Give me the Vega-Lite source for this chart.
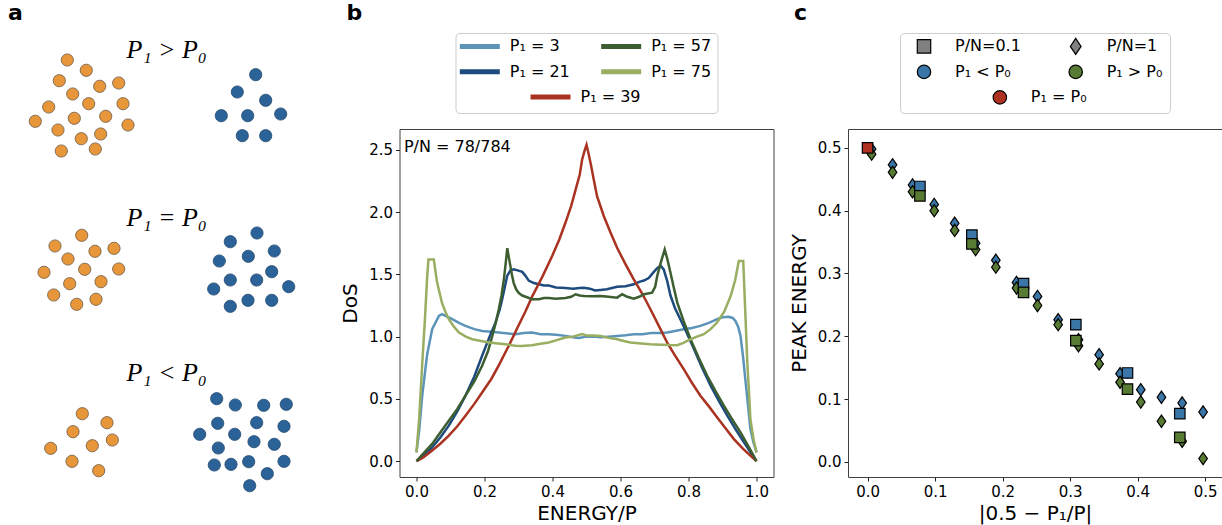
{
  "$schema": "https://vega.github.io/schema/vega-lite/v6.json",
  "padding": {"left": 0, "top": 1, "right": 0, "bottom": 0},
  "background": "white",
  "bounds": "full",
  "spacing": 13.5,
  "resolve": {"scale": {"fill": "independent", "color": "independent", "shape": "independent", "stroke": "independent"}},
  "config": {
    "font": "DejaVu Sans",
    "view": {"stroke": "#404040", "strokeWidth": 1},
    "axis": {"grid": false, "domain": false, "tickColor": "#222222", "tickSize": 4, "labelFontSize": 15, "labelColor": "#000000", "titleFontSize": 20, "titleFontWeight": "normal", "titleColor": "#000000", "labelPadding": 3, "labelFont": "DejaVu Sans", "titleFont": "DejaVu Sans"},
    "title": {"font": "DejaVu Sans", "fontSize": 22, "fontWeight": "bold", "anchor": "start", "frame": "group", "baseline": "alphabetic", "offset": 8, "color": "#000000"}
  },
  "hconcat": [
    {
      "width": 325.5, "height": 492,
      "view": {"stroke": null},
      "title": {"text": "a", "dx": 8},
      "layer": [
        {
          "data": {"values": [
            {"x":6.73,"y":6.0,"g":"P1"},{"x":8.63,"y":7.03,"g":"P1"},{"x":5.93,"y":8.07,"g":"P1"},{"x":9.97,"y":8.63,"g":"P1"},{"x":11.87,"y":8.3,"g":"P1"},{"x":7.27,"y":9.4,"g":"P1"},{"x":4.87,"y":10.7,"g":"P1"},{"x":8.87,"y":10.37,"g":"P1"},{"x":12.3,"y":10.37,"g":"P1"},{"x":3.53,"y":12.13,"g":"P1"},{"x":7.43,"y":11.83,"g":"P1"},{"x":10.57,"y":11.63,"g":"P1"},{"x":12.8,"y":12.5,"g":"P1"},{"x":5.8,"y":13.0,"g":"P1"},{"x":8.13,"y":13.87,"g":"P1"},{"x":10.07,"y":13.4,"g":"P1"},{"x":6.13,"y":15.1,"g":"P1"},{"x":9.53,"y":14.9,"g":"P1"},
            {"x":25.57,"y":7.47,"g":"P0"},{"x":23.73,"y":9.2,"g":"P0"},{"x":26.57,"y":10.03,"g":"P0"},{"x":22.13,"y":11.57,"g":"P0"},{"x":24.77,"y":11.57,"g":"P0"},{"x":28.07,"y":11.4,"g":"P0"},{"x":24.23,"y":13.57,"g":"P0"},{"x":26.57,"y":13.57,"g":"P0"},
            {"x":8.17,"y":23.53,"g":"P1"},{"x":5.5,"y":24.6,"g":"P1"},{"x":9.5,"y":25.13,"g":"P1"},{"x":11.4,"y":24.83,"g":"P1"},{"x":6.8,"y":25.9,"g":"P1"},{"x":4.4,"y":27.23,"g":"P1"},{"x":8.47,"y":26.93,"g":"P1"},{"x":11.87,"y":26.9,"g":"P1"},{"x":6.97,"y":28.37,"g":"P1"},{"x":10.1,"y":28.17,"g":"P1"},{"x":5.37,"y":29.5,"g":"P1"},{"x":7.67,"y":30.43,"g":"P1"},{"x":9.6,"y":29.93,"g":"P1"},
            {"x":25.7,"y":23.3,"g":"P0"},{"x":23.03,"y":24.17,"g":"P0"},{"x":27.43,"y":25.1,"g":"P0"},{"x":21.93,"y":26.1,"g":"P0"},{"x":24.83,"y":25.63,"g":"P0"},{"x":27.17,"y":27.17,"g":"P0"},{"x":23.03,"y":28.0,"g":"P0"},{"x":25.67,"y":28.0,"g":"P0"},{"x":21.37,"y":28.9,"g":"P0"},{"x":28.87,"y":28.67,"g":"P0"},{"x":24.8,"y":30.03,"g":"P0"},{"x":27.17,"y":30.03,"g":"P0"},{"x":23.03,"y":30.63,"g":"P0"},
            {"x":8.23,"y":41.37,"g":"P1"},{"x":10.7,"y":42.27,"g":"P1"},{"x":7.3,"y":43.17,"g":"P1"},{"x":11.23,"y":44.0,"g":"P1"},{"x":5.07,"y":44.83,"g":"P1"},{"x":9.23,"y":44.57,"g":"P1"},{"x":7.2,"y":46.13,"g":"P1"},{"x":9.87,"y":47.07,"g":"P1"},
            {"x":21.67,"y":39.87,"g":"P0"},{"x":23.53,"y":40.5,"g":"P0"},{"x":26.37,"y":40.53,"g":"P0"},{"x":28.63,"y":40.43,"g":"P0"},{"x":21.77,"y":42.33,"g":"P0"},{"x":25.67,"y":42.27,"g":"P0"},{"x":28.4,"y":42.63,"g":"P0"},{"x":19.97,"y":43.43,"g":"P0"},{"x":23.47,"y":43.43,"g":"P0"},{"x":25.4,"y":44.17,"g":"P0"},{"x":27.43,"y":44.43,"g":"P0"},{"x":21.83,"y":44.8,"g":"P0"},{"x":21.43,"y":46.5,"g":"P0"},{"x":23.1,"y":46.43,"g":"P0"},{"x":24.87,"y":46.17,"g":"P0"},{"x":28.4,"y":46.13,"g":"P0"},{"x":26.73,"y":47.37,"g":"P0"},{"x":24.97,"y":48.57,"g":"P0"}
          ]},
          "mark": {"type": "circle", "size": 150, "opacity": 1, "strokeWidth": 0.8},
          "encoding": {
            "x": {"field": "x", "type": "quantitative", "scale": {"domain": [0, 32.55], "nice": false, "zero": false}, "axis": null},
            "y": {"field": "y", "type": "quantitative", "scale": {"domain": [3.3, 52.5], "reverse": true, "nice": false, "zero": false}, "axis": null},
            "fill": {"field": "g", "type": "nominal", "scale": {"domain": ["P1", "P0"], "range": ["#e8963a", "#2b6399"]}, "legend": null},
            "stroke": {"field": "g", "type": "nominal", "scale": {"domain": ["P1", "P0"], "range": ["#6b5a45", "#24496f"]}, "legend": null}
          }
        },
        {
          "data": {"values": [
            {"x": 16.67, "y": 5.0, "t": "P₁ > P₀"},
            {"x": 16.67, "y": 21.83, "t": "P₁ = P₀"},
            {"x": 16.67, "y": 37.33, "t": "P₁ < P₀"}
          ]},
          "mark": {"type": "text", "font": "Liberation Serif", "fontStyle": "italic", "fontSize": 26, "baseline": "middle", "align": "center", "color": "#000000"},
          "encoding": {
            "x": {"field": "x", "type": "quantitative"},
            "y": {"field": "y", "type": "quantitative"},
            "text": {"field": "t"}
          }
        }
      ]
    },
    {
      "vconcat": [
        {
          "width": 262, "height": 80,
          "view": {"stroke": "#cccccc", "cornerRadius": 4},
          "title": {"text": "b", "dx": -109},
          "data": {"values": [
            {"P1": "3", "label": "P₁ = 3", "col": 0, "row": 0},
            {"P1": "21", "label": "P₁ = 21", "col": 0, "row": 1},
            {"P1": "39", "label": "P₁ = 39", "col": 0.5, "row": 2},
            {"P1": "57", "label": "P₁ = 57", "col": 1, "row": 0},
            {"P1": "75", "label": "P₁ = 75", "col": 1, "row": 1}
          ]},
          "encoding": {
            "x": {"field": "col", "type": "quantitative", "scale": {"domain": [0, 1], "range": [24.3, 165.7], "nice": false, "zero": false}, "axis": null},
            "y": {"field": "row", "type": "quantitative", "scale": {"domain": [0, 2], "range": [13.4, 64], "nice": false, "zero": false}, "axis": null}
          },
          "layer": [
            {
              "mark": {"type": "tick", "orient": "horizontal", "size": 40, "thickness": 5, "opacity": 1},
              "encoding": {"color": {"field": "P1", "type": "nominal", "scale": {"domain": ["3", "21", "39", "57", "75"], "range": ["#5b94b8", "#1e4b7e", "#a93221", "#3c5e30", "#99ae60"]}, "legend": null}}
            },
            {
              "mark": {"type": "text", "align": "left", "baseline": "middle", "dx": 30, "fontSize": 16, "color": "#000000"},
              "encoding": {"text": {"field": "label"}}
            }
          ]
        },
        {
          "width": 374, "height": 348,
          "layer": [
            {
              "data": {"values": [
                {"P1":"3","e":0,"d":0.07},{"P1":"3","e":0.008,"d":0.25},{"P1":"3","e":0.017,"d":0.53},{"P1":"3","e":0.031,"d":0.85},{"P1":"3","e":0.046,"d":1.06},{"P1":"3","e":0.066,"d":1.166},{"P1":"3","e":0.075,"d":1.18},{"P1":"3","e":0.09,"d":1.16},{"P1":"3","e":0.105,"d":1.14},{"P1":"3","e":0.125,"d":1.11},{"P1":"3","e":0.144,"d":1.086},{"P1":"3","e":0.17,"d":1.06},{"P1":"3","e":0.193,"d":1.046},{"P1":"3","e":0.22,"d":1.04},{"P1":"3","e":0.242,"d":1.033},{"P1":"3","e":0.27,"d":1.025},{"P1":"3","e":0.291,"d":1.02},{"P1":"3","e":0.315,"d":1.03},{"P1":"3","e":0.34,"d":1.033},{"P1":"3","e":0.365,"d":1.02},{"P1":"3","e":0.389,"d":1.02},{"P1":"3","e":0.41,"d":1.015},{"P1":"3","e":0.438,"d":1.006},{"P1":"3","e":0.46,"d":0.995},{"P1":"3","e":0.477,"d":0.99},{"P1":"3","e":0.5,"d":1.0},{"P1":"3","e":0.52,"d":1.0},{"P1":"3","e":0.541,"d":0.995},{"P1":"3","e":0.565,"d":1.0},{"P1":"3","e":0.59,"d":1.006},{"P1":"3","e":0.615,"d":1.012},{"P1":"3","e":0.639,"d":1.02},{"P1":"3","e":0.665,"d":1.02},{"P1":"3","e":0.69,"d":1.03},{"P1":"3","e":0.715,"d":1.03},{"P1":"3","e":0.737,"d":1.033},{"P1":"3","e":0.76,"d":1.045},{"P1":"3","e":0.786,"d":1.06},{"P1":"3","e":0.81,"d":1.07},{"P1":"3","e":0.835,"d":1.086},{"P1":"3","e":0.86,"d":1.11},{"P1":"3","e":0.884,"d":1.14},{"P1":"3","e":0.9,"d":1.155},{"P1":"3","e":0.918,"d":1.16},{"P1":"3","e":0.93,"d":1.15},{"P1":"3","e":0.938,"d":1.126},{"P1":"3","e":0.946,"d":1.08},{"P1":"3","e":0.953,"d":1.006},{"P1":"3","e":0.96,"d":0.85},{"P1":"3","e":0.967,"d":0.66},{"P1":"3","e":0.975,"d":0.45},{"P1":"3","e":0.982,"d":0.26},{"P1":"3","e":0.991,"d":0.15},{"P1":"3","e":1.0,"d":0.07},
                {"P1":"21","e":0,"d":0},{"P1":"21","e":0.02,"d":0.04},{"P1":"21","e":0.046,"d":0.11},{"P1":"21","e":0.07,"d":0.19},{"P1":"21","e":0.095,"d":0.285},{"P1":"21","e":0.12,"d":0.4},{"P1":"21","e":0.144,"d":0.526},{"P1":"21","e":0.17,"d":0.68},{"P1":"21","e":0.193,"d":0.846},{"P1":"21","e":0.215,"d":1.0},{"P1":"21","e":0.232,"d":1.11},{"P1":"21","e":0.245,"d":1.22},{"P1":"21","e":0.252,"d":1.3},{"P1":"21","e":0.26,"d":1.4},{"P1":"21","e":0.267,"d":1.49},{"P1":"21","e":0.276,"d":1.53},{"P1":"21","e":0.286,"d":1.54},{"P1":"21","e":0.3,"d":1.53},{"P1":"21","e":0.311,"d":1.52},{"P1":"21","e":0.32,"d":1.49},{"P1":"21","e":0.33,"d":1.45},{"P1":"21","e":0.345,"d":1.43},{"P1":"21","e":0.36,"d":1.42},{"P1":"21","e":0.375,"d":1.41},{"P1":"21","e":0.389,"d":1.41},{"P1":"21","e":0.41,"d":1.395},{"P1":"21","e":0.438,"d":1.39},{"P1":"21","e":0.46,"d":1.385},{"P1":"21","e":0.48,"d":1.39},{"P1":"21","e":0.492,"d":1.393},{"P1":"21","e":0.51,"d":1.385},{"P1":"21","e":0.525,"d":1.37},{"P1":"21","e":0.541,"d":1.375},{"P1":"21","e":0.56,"d":1.38},{"P1":"21","e":0.59,"d":1.4},{"P1":"21","e":0.615,"d":1.405},{"P1":"21","e":0.639,"d":1.42},{"P1":"21","e":0.655,"d":1.44},{"P1":"21","e":0.669,"d":1.45},{"P1":"21","e":0.683,"d":1.47},{"P1":"21","e":0.698,"d":1.52},{"P1":"21","e":0.708,"d":1.55},{"P1":"21","e":0.718,"d":1.57},{"P1":"21","e":0.727,"d":1.54},{"P1":"21","e":0.737,"d":1.45},{"P1":"21","e":0.747,"d":1.33},{"P1":"21","e":0.76,"d":1.23},{"P1":"21","e":0.776,"d":1.14},{"P1":"21","e":0.795,"d":1.03},{"P1":"21","e":0.816,"d":0.9},{"P1":"21","e":0.84,"d":0.75},{"P1":"21","e":0.865,"d":0.606},{"P1":"21","e":0.89,"d":0.48},{"P1":"21","e":0.914,"d":0.366},{"P1":"21","e":0.94,"d":0.25},{"P1":"21","e":0.963,"d":0.152},{"P1":"21","e":0.983,"d":0.07},{"P1":"21","e":1.0,"d":0},
                {"P1":"39","e":0,"d":0},{"P1":"39","e":0.02,"d":0.03},{"P1":"39","e":0.046,"d":0.085},{"P1":"39","e":0.07,"d":0.14},{"P1":"39","e":0.095,"d":0.205},{"P1":"39","e":0.12,"d":0.28},{"P1":"39","e":0.144,"d":0.365},{"P1":"39","e":0.17,"d":0.46},{"P1":"39","e":0.193,"d":0.552},{"P1":"39","e":0.22,"d":0.66},{"P1":"39","e":0.242,"d":0.769},{"P1":"39","e":0.272,"d":0.93},{"P1":"39","e":0.3,"d":1.09},{"P1":"39","e":0.32,"d":1.2},{"P1":"39","e":0.34,"d":1.321},{"P1":"39","e":0.37,"d":1.48},{"P1":"39","e":0.399,"d":1.647},{"P1":"39","e":0.42,"d":1.78},{"P1":"39","e":0.438,"d":1.914},{"P1":"39","e":0.455,"d":2.05},{"P1":"39","e":0.468,"d":2.18},{"P1":"39","e":0.48,"d":2.3},{"P1":"39","e":0.487,"d":2.42},{"P1":"39","e":0.494,"d":2.49},{"P1":"39","e":0.5,"d":2.54},{"P1":"39","e":0.506,"d":2.47},{"P1":"39","e":0.513,"d":2.38},{"P1":"39","e":0.52,"d":2.28},{"P1":"39","e":0.531,"d":2.127},{"P1":"39","e":0.551,"d":1.967},{"P1":"39","e":0.57,"d":1.84},{"P1":"39","e":0.59,"d":1.713},{"P1":"39","e":0.615,"d":1.58},{"P1":"39","e":0.639,"d":1.46},{"P1":"39","e":0.665,"d":1.34},{"P1":"39","e":0.688,"d":1.22},{"P1":"39","e":0.712,"d":1.09},{"P1":"39","e":0.737,"d":0.953},{"P1":"39","e":0.76,"d":0.85},{"P1":"39","e":0.786,"d":0.739},{"P1":"39","e":0.81,"d":0.63},{"P1":"39","e":0.835,"d":0.526},{"P1":"39","e":0.86,"d":0.44},{"P1":"39","e":0.884,"d":0.352},{"P1":"39","e":0.91,"d":0.26},{"P1":"39","e":0.933,"d":0.179},{"P1":"39","e":0.96,"d":0.1},{"P1":"39","e":0.982,"d":0.045},{"P1":"39","e":1.0,"d":0},
                {"P1":"57","e":0,"d":0},{"P1":"57","e":0.02,"d":0.06},{"P1":"57","e":0.046,"d":0.139},{"P1":"57","e":0.07,"d":0.23},{"P1":"57","e":0.095,"d":0.325},{"P1":"57","e":0.12,"d":0.42},{"P1":"57","e":0.144,"d":0.526},{"P1":"57","e":0.17,"d":0.64},{"P1":"57","e":0.193,"d":0.766},{"P1":"57","e":0.21,"d":0.88},{"P1":"57","e":0.223,"d":1.006},{"P1":"57","e":0.233,"d":1.11},{"P1":"57","e":0.242,"d":1.22},{"P1":"57","e":0.25,"d":1.33},{"P1":"57","e":0.257,"d":1.46},{"P1":"57","e":0.262,"d":1.58},{"P1":"57","e":0.267,"d":1.71},{"P1":"57","e":0.272,"d":1.63},{"P1":"57","e":0.276,"d":1.57},{"P1":"57","e":0.281,"d":1.49},{"P1":"57","e":0.286,"d":1.43},{"P1":"57","e":0.293,"d":1.38},{"P1":"57","e":0.301,"d":1.35},{"P1":"57","e":0.311,"d":1.33},{"P1":"57","e":0.321,"d":1.32},{"P1":"57","e":0.34,"d":1.3},{"P1":"57","e":0.36,"d":1.3},{"P1":"57","e":0.375,"d":1.31},{"P1":"57","e":0.389,"d":1.31},{"P1":"57","e":0.41,"d":1.305},{"P1":"57","e":0.438,"d":1.31},{"P1":"57","e":0.455,"d":1.32},{"P1":"57","e":0.468,"d":1.34},{"P1":"57","e":0.48,"d":1.33},{"P1":"57","e":0.492,"d":1.326},{"P1":"57","e":0.515,"d":1.325},{"P1":"57","e":0.541,"d":1.326},{"P1":"57","e":0.565,"d":1.32},{"P1":"57","e":0.59,"d":1.313},{"P1":"57","e":0.605,"d":1.34},{"P1":"57","e":0.62,"d":1.32},{"P1":"57","e":0.639,"d":1.305},{"P1":"57","e":0.655,"d":1.32},{"P1":"57","e":0.669,"d":1.34},{"P1":"57","e":0.693,"d":1.353},{"P1":"57","e":0.702,"d":1.4},{"P1":"57","e":0.708,"d":1.487},{"P1":"57","e":0.718,"d":1.59},{"P1":"57","e":0.73,"d":1.7},{"P1":"57","e":0.738,"d":1.62},{"P1":"57","e":0.747,"d":1.513},{"P1":"57","e":0.757,"d":1.39},{"P1":"57","e":0.767,"d":1.273},{"P1":"57","e":0.785,"d":1.13},{"P1":"57","e":0.806,"d":0.979},{"P1":"57","e":0.83,"d":0.83},{"P1":"57","e":0.855,"d":0.686},{"P1":"57","e":0.88,"d":0.56},{"P1":"57","e":0.904,"d":0.446},{"P1":"57","e":0.93,"d":0.33},{"P1":"57","e":0.953,"d":0.232},{"P1":"57","e":0.978,"d":0.11},{"P1":"57","e":1.0,"d":0},
                {"P1":"75","e":0,"d":0.07},{"P1":"75","e":0.008,"d":0.35},{"P1":"75","e":0.017,"d":0.79},{"P1":"75","e":0.025,"d":1.15},{"P1":"75","e":0.031,"d":1.46},{"P1":"75","e":0.035,"d":1.62},{"P1":"75","e":0.045,"d":1.62},{"P1":"75","e":0.051,"d":1.62},{"P1":"75","e":0.056,"d":1.52},{"P1":"75","e":0.061,"d":1.43},{"P1":"75","e":0.068,"d":1.35},{"P1":"75","e":0.075,"d":1.27},{"P1":"75","e":0.085,"d":1.2},{"P1":"75","e":0.095,"d":1.14},{"P1":"75","e":0.11,"d":1.08},{"P1":"75","e":0.125,"d":1.033},{"P1":"75","e":0.145,"d":1.0},{"P1":"75","e":0.164,"d":0.979},{"P1":"75","e":0.19,"d":0.965},{"P1":"75","e":0.213,"d":0.953},{"P1":"75","e":0.24,"d":0.945},{"P1":"75","e":0.262,"d":0.939},{"P1":"75","e":0.28,"d":0.93},{"P1":"75","e":0.291,"d":0.926},{"P1":"75","e":0.31,"d":0.925},{"P1":"75","e":0.34,"d":0.93},{"P1":"75","e":0.36,"d":0.94},{"P1":"75","e":0.389,"d":0.953},{"P1":"75","e":0.41,"d":0.97},{"P1":"75","e":0.438,"d":0.993},{"P1":"75","e":0.46,"d":1.0},{"P1":"75","e":0.487,"d":1.02},{"P1":"75","e":0.5,"d":1.01},{"P1":"75","e":0.52,"d":1.01},{"P1":"75","e":0.541,"d":1.006},{"P1":"75","e":0.565,"d":0.99},{"P1":"75","e":0.59,"d":0.979},{"P1":"75","e":0.61,"d":0.965},{"P1":"75","e":0.629,"d":0.953},{"P1":"75","e":0.66,"d":0.945},{"P1":"75","e":0.688,"d":0.939},{"P1":"75","e":0.72,"d":0.935},{"P1":"75","e":0.745,"d":0.932},{"P1":"75","e":0.767,"d":0.931},{"P1":"75","e":0.785,"d":0.95},{"P1":"75","e":0.806,"d":0.979},{"P1":"75","e":0.825,"d":1.0},{"P1":"75","e":0.845,"d":1.02},{"P1":"75","e":0.865,"d":1.06},{"P1":"75","e":0.884,"d":1.113},{"P1":"75","e":0.905,"d":1.2},{"P1":"75","e":0.924,"d":1.326},{"P1":"75","e":0.937,"d":1.45},{"P1":"75","e":0.948,"d":1.607},{"P1":"75","e":0.955,"d":1.607},{"P1":"75","e":0.961,"d":1.607},{"P1":"75","e":0.967,"d":1.2},{"P1":"75","e":0.973,"d":0.79},{"P1":"75","e":0.978,"d":0.55},{"P1":"75","e":0.982,"d":0.339},{"P1":"75","e":0.991,"d":0.18},{"P1":"75","e":1.0,"d":0.07}
              ]},
              "mark": {"type": "line", "strokeWidth": 2.5, "opacity": 1},
              "encoding": {
                "x": {"field": "e", "type": "quantitative", "scale": {"domain": [-0.05, 1.05], "nice": false, "zero": false}, "axis": {"values": [0, 0.2, 0.4, 0.6, 0.8, 1.0], "format": ".1f", "title": "ENERGY/P", "titlePadding": 4}},
                "y": {"field": "d", "type": "quantitative", "scale": {"domain": [-0.127, 2.667], "nice": false, "zero": false}, "axis": {"values": [0, 0.5, 1.0, 1.5, 2.0, 2.5], "format": ".1f", "title": "DoS", "titlePadding": 8}},
                "color": {"field": "P1", "type": "nominal", "scale": {"domain": ["3", "21", "39", "57", "75"], "range": ["#5b94b8", "#1e4b7e", "#a93221", "#3c5e30", "#99ae60"]}, "legend": null}
              }
            },
            {
              "data": {"values": [{"e": -0.037, "d": 2.524, "t": "P/N = 78/784"}]},
              "mark": {"type": "text", "align": "left", "baseline": "middle", "fontSize": 16, "color": "#000000"},
              "encoding": {
                "x": {"field": "e", "type": "quantitative"},
                "y": {"field": "d", "type": "quantitative"},
                "text": {"field": "t"}
              }
            }
          ]
        }
      ],
      "spacing": 16,
      "center": true,
      "bounds": "flush",
      "resolve": {"scale": {"color": "independent", "x": "independent", "y": "independent"}}
    },
    {
      "vconcat": [
        {
          "width": 270, "height": 80,
          "view": {"stroke": "#cccccc", "cornerRadius": 4},
          "title": {"text": "c", "dx": -106},
          "data": {"values": [
            {"k": "pn01", "label": "P/N=0.1", "col": 0, "row": 0},
            {"k": "pn1", "label": "P/N=1", "col": 1, "row": 0},
            {"k": "lt", "label": "P₁ < P₀", "col": 0, "row": 1},
            {"k": "gt", "label": "P₁ > P₀", "col": 1, "row": 1},
            {"k": "eq", "label": "P₁ = P₀", "col": 0.5, "row": 2}
          ]},
          "encoding": {
            "x": {"field": "col", "type": "quantitative", "scale": {"domain": [0, 1], "range": [24, 175.7], "nice": false, "zero": false}, "axis": null},
            "y": {"field": "row", "type": "quantitative", "scale": {"domain": [0, 2], "range": [13.4, 64.4], "nice": false, "zero": false}, "axis": null}
          },
          "layer": [
            {
              "mark": {"type": "point", "filled": true, "size": 180, "opacity": 1, "stroke": "#000000", "strokeWidth": 1.2},
              "encoding": {
                "fill": {"field": "k", "type": "nominal", "scale": {"domain": ["pn01", "pn1", "lt", "gt", "eq"], "range": ["#808080", "#808080", "#3a76a8", "#587b33", "#ae3121"]}, "legend": null},
                "shape": {"field": "k", "type": "nominal", "scale": {"domain": ["pn01", "pn1", "lt", "gt", "eq"], "range": ["square", "M0,-1.2L0.8,0L0,1.2L-0.8,0Z", "circle", "circle", "circle"]}, "legend": null}
              }
            },
            {
              "mark": {"type": "text", "align": "left", "baseline": "middle", "dx": 31, "fontSize": 16, "color": "#000000"},
              "encoding": {"text": {"field": "label"}}
            }
          ]
        },
        {
          "width": 374, "height": 348,
          "data": {"values": [
            {"pn":"1","grp":"lt","x":0.006,"y":0.498},{"pn":"1","grp":"lt","x":0.037,"y":0.473},{"pn":"1","grp":"lt","x":0.0666,"y":0.441},{"pn":"1","grp":"lt","x":0.0987,"y":0.41},{"pn":"1","grp":"lt","x":0.129,"y":0.38},{"pn":"1","grp":"lt","x":0.16,"y":0.348},{"pn":"1","grp":"lt","x":0.19,"y":0.321},{"pn":"1","grp":"lt","x":0.2206,"y":0.2858},{"pn":"1","grp":"lt","x":0.2517,"y":0.2635},{"pn":"1","grp":"lt","x":0.2823,"y":0.2264},{"pn":"1","grp":"lt","x":0.3124,"y":0.1946},{"pn":"1","grp":"lt","x":0.343,"y":0.1707},{"pn":"1","grp":"lt","x":0.374,"y":0.1405},{"pn":"1","grp":"lt","x":0.4047,"y":0.115},{"pn":"1","grp":"lt","x":0.4353,"y":0.1029},{"pn":"1","grp":"lt","x":0.466,"y":0.0938},{"pn":"1","grp":"lt","x":0.497,"y":0.0795},
            {"pn":"1","grp":"gt","x":0.006,"y":0.49},{"pn":"1","grp":"gt","x":0.037,"y":0.461},{"pn":"1","grp":"gt","x":0.0666,"y":0.43},{"pn":"1","grp":"gt","x":0.0987,"y":0.4},{"pn":"1","grp":"gt","x":0.129,"y":0.3685},{"pn":"1","grp":"gt","x":0.16,"y":0.338},{"pn":"1","grp":"gt","x":0.19,"y":0.31},{"pn":"1","grp":"gt","x":0.2206,"y":0.2768},{"pn":"1","grp":"gt","x":0.2517,"y":0.249},{"pn":"1","grp":"gt","x":0.2823,"y":0.2185},{"pn":"1","grp":"gt","x":0.3124,"y":0.185},{"pn":"1","grp":"gt","x":0.343,"y":0.156},{"pn":"1","grp":"gt","x":0.374,"y":0.1267},{"pn":"1","grp":"gt","x":0.4047,"y":0.0954},{"pn":"1","grp":"gt","x":0.4353,"y":0.0647},{"pn":"1","grp":"gt","x":0.466,"y":0.0329},{"pn":"1","grp":"gt","x":0.497,"y":0.0053},
            {"pn":"0.1","grp":"lt","x":0.0775,"y":0.4385},{"pn":"0.1","grp":"lt","x":0.1545,"y":0.361},{"pn":"0.1","grp":"lt","x":0.231,"y":0.2837},{"pn":"0.1","grp":"lt","x":0.3085,"y":0.2185},{"pn":"0.1","grp":"lt","x":0.385,"y":0.1416},{"pn":"0.1","grp":"lt","x":0.4625,"y":0.0769},
            {"pn":"0.1","grp":"gt","x":0.0775,"y":0.4236},{"pn":"0.1","grp":"gt","x":0.1545,"y":0.347},{"pn":"0.1","grp":"gt","x":0.231,"y":0.27},{"pn":"0.1","grp":"gt","x":0.3085,"y":0.193},{"pn":"0.1","grp":"gt","x":0.385,"y":0.116},{"pn":"0.1","grp":"gt","x":0.4625,"y":0.0392},
            {"pn":"0.1","grp":"eq","x":0.0,"y":0.5}
          ]},
          "encoding": {
            "x": {"field": "x", "type": "quantitative", "scale": {"domain": [-0.029, 0.525], "nice": false, "zero": false}, "axis": {"values": [0, 0.1, 0.2, 0.3, 0.4, 0.5], "format": ".1f", "title": "|0.5 − P₁/P|", "titlePadding": 4}},
            "y": {"field": "y", "type": "quantitative", "scale": {"domain": [-0.024, 0.53], "nice": false, "zero": false}, "axis": {"values": [0, 0.1, 0.2, 0.3, 0.4, 0.5], "format": ".1f", "title": "PEAK ENERGY", "titlePadding": 8}},
            "fill": {"field": "grp", "type": "nominal", "scale": {"domain": ["lt", "gt", "eq"], "range": ["#3a76a8", "#587b33", "#ae3121"]}, "legend": null}
          },
          "layer": [
            {
              "transform": [{"filter": "datum.pn == '1'"}],
              "mark": {"type": "point", "filled": true, "shape": "M0,-1L0.7,0L0,1L-0.7,0Z", "size": 150, "opacity": 1, "stroke": "#000000", "strokeWidth": 1.2}
            },
            {
              "transform": [{"filter": "datum.pn == '0.1'"}],
              "mark": {"type": "point", "filled": true, "shape": "square", "size": 110, "opacity": 1, "stroke": "#000000", "strokeWidth": 1.2}
            }
          ]
        }
      ],
      "spacing": 16,
      "center": true,
      "bounds": "flush",
      "resolve": {"scale": {"fill": "independent", "shape": "independent", "x": "independent", "y": "independent"}}
    }
  ]
}
